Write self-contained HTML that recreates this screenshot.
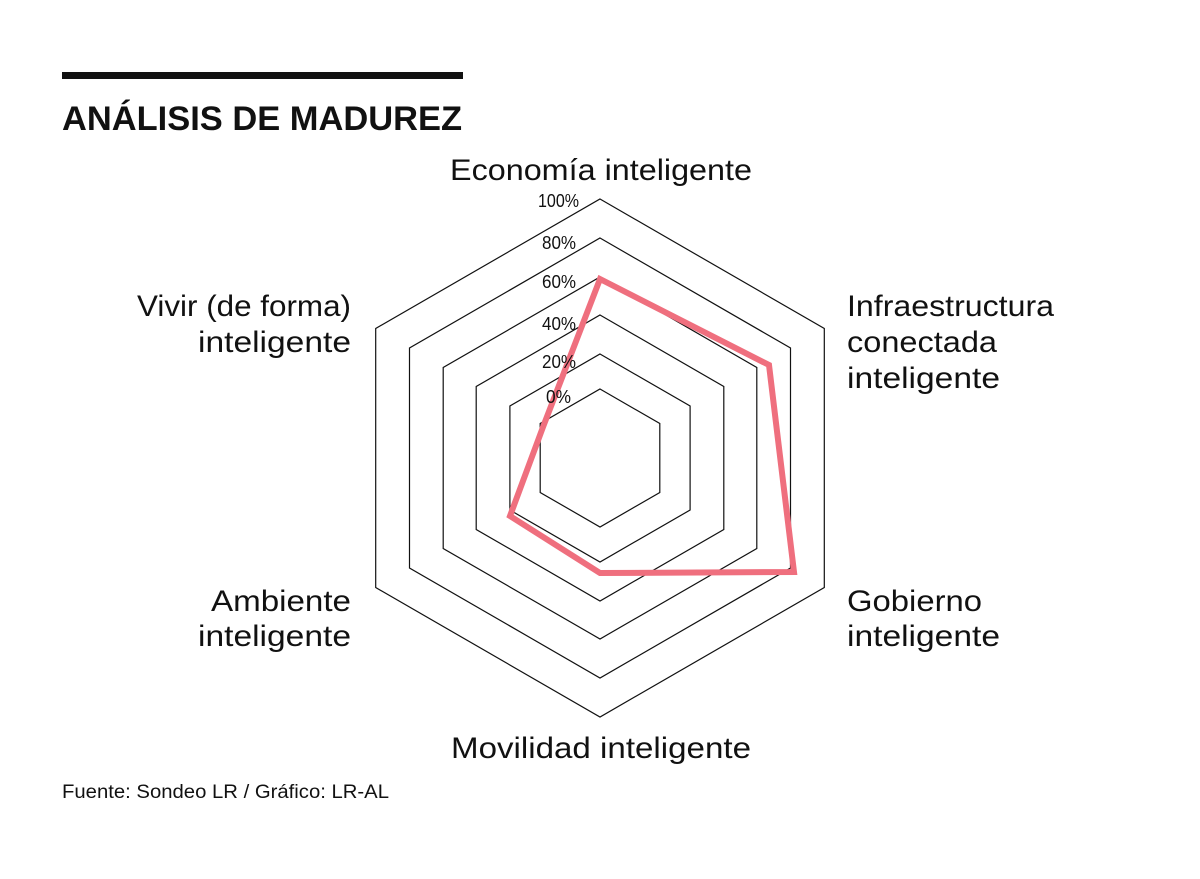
<!DOCTYPE html>
<html><head><meta charset="utf-8"><style>
body{margin:0;background:#fff;width:1200px;height:874px;overflow:hidden}
</style></head><body>
<svg width="1200" height="874" xmlns="http://www.w3.org/2000/svg">
<rect x="62" y="72" width="401" height="7" fill="#111"/>
<text x="62" y="130" font-family="Liberation Sans, sans-serif" font-weight="bold" font-size="34" fill="#111" textLength="400" lengthAdjust="spacingAndGlyphs">ANÁLISIS DE MADUREZ</text>
<g fill="none" stroke="#111" stroke-width="1.2">
<polygon points="600,199 824.3,328.5 824.3,587.5 600,717 375.7,587.5 375.7,328.5"/>
<polygon points="600,238 790.5,348 790.5,568 600,678 409.5,568 409.5,348"/>
<polygon points="600,277 756.8,367.5 756.8,548.5 600,639 443.2,548.5 443.2,367.5"/>
<polygon points="600,315 723.8,386.5 723.8,529.5 600,601 476.2,529.5 476.2,386.5"/>
<polygon points="600,354 690.1,406 690.1,510 600,562 509.9,510 509.9,406"/>
<polygon points="600,389 659.8,423.5 659.8,492.5 600,527 540.2,492.5 540.2,423.5"/>
</g>
<polygon points="600,279 769,365 794,572 600,573 510,516 543,427" fill="none" stroke="#ef6f7e" stroke-width="6" stroke-linejoin="miter"/>
<g font-family="Liberation Sans Narrow, Liberation Sans, sans-serif" font-size="18" fill="#111" lengthAdjust="spacingAndGlyphs">
<text x="538" y="207" textLength="41" lengthAdjust="spacingAndGlyphs">100%</text>
<text x="542" y="249" textLength="34" lengthAdjust="spacingAndGlyphs">80%</text>
<text x="542" y="288" textLength="34" lengthAdjust="spacingAndGlyphs">60%</text>
<text x="542" y="330" textLength="34" lengthAdjust="spacingAndGlyphs">40%</text>
<text x="542" y="368" textLength="34" lengthAdjust="spacingAndGlyphs">20%</text>
<text x="546" y="403" textLength="25" lengthAdjust="spacingAndGlyphs">0%</text>
</g>
<g font-family="Liberation Sans, sans-serif" font-size="30" fill="#111">
<text x="450" y="180" textLength="302" lengthAdjust="spacingAndGlyphs">Economía inteligente</text>
<text x="847" y="316" textLength="207" lengthAdjust="spacingAndGlyphs">Infraestructura</text>
<text x="847" y="352" textLength="150" lengthAdjust="spacingAndGlyphs">conectada</text>
<text x="847" y="388" textLength="153" lengthAdjust="spacingAndGlyphs">inteligente</text>
<text x="847" y="611" textLength="135" lengthAdjust="spacingAndGlyphs">Gobierno</text>
<text x="847" y="646" textLength="153" lengthAdjust="spacingAndGlyphs">inteligente</text>
<text x="451" y="758" textLength="300" lengthAdjust="spacingAndGlyphs">Movilidad inteligente</text>
<text x="211" y="611" textLength="140" lengthAdjust="spacingAndGlyphs">Ambiente</text>
<text x="198" y="646" textLength="153" lengthAdjust="spacingAndGlyphs">inteligente</text>
<text x="137" y="316" textLength="214" lengthAdjust="spacingAndGlyphs">Vivir (de forma)</text>
<text x="198" y="352" textLength="153" lengthAdjust="spacingAndGlyphs">inteligente</text>
</g>
<text x="62" y="798" font-family="Liberation Sans, sans-serif" font-size="19" fill="#111" textLength="327" lengthAdjust="spacingAndGlyphs">Fuente: Sondeo LR / Gráfico: LR-AL</text>
</svg>
</body></html>
